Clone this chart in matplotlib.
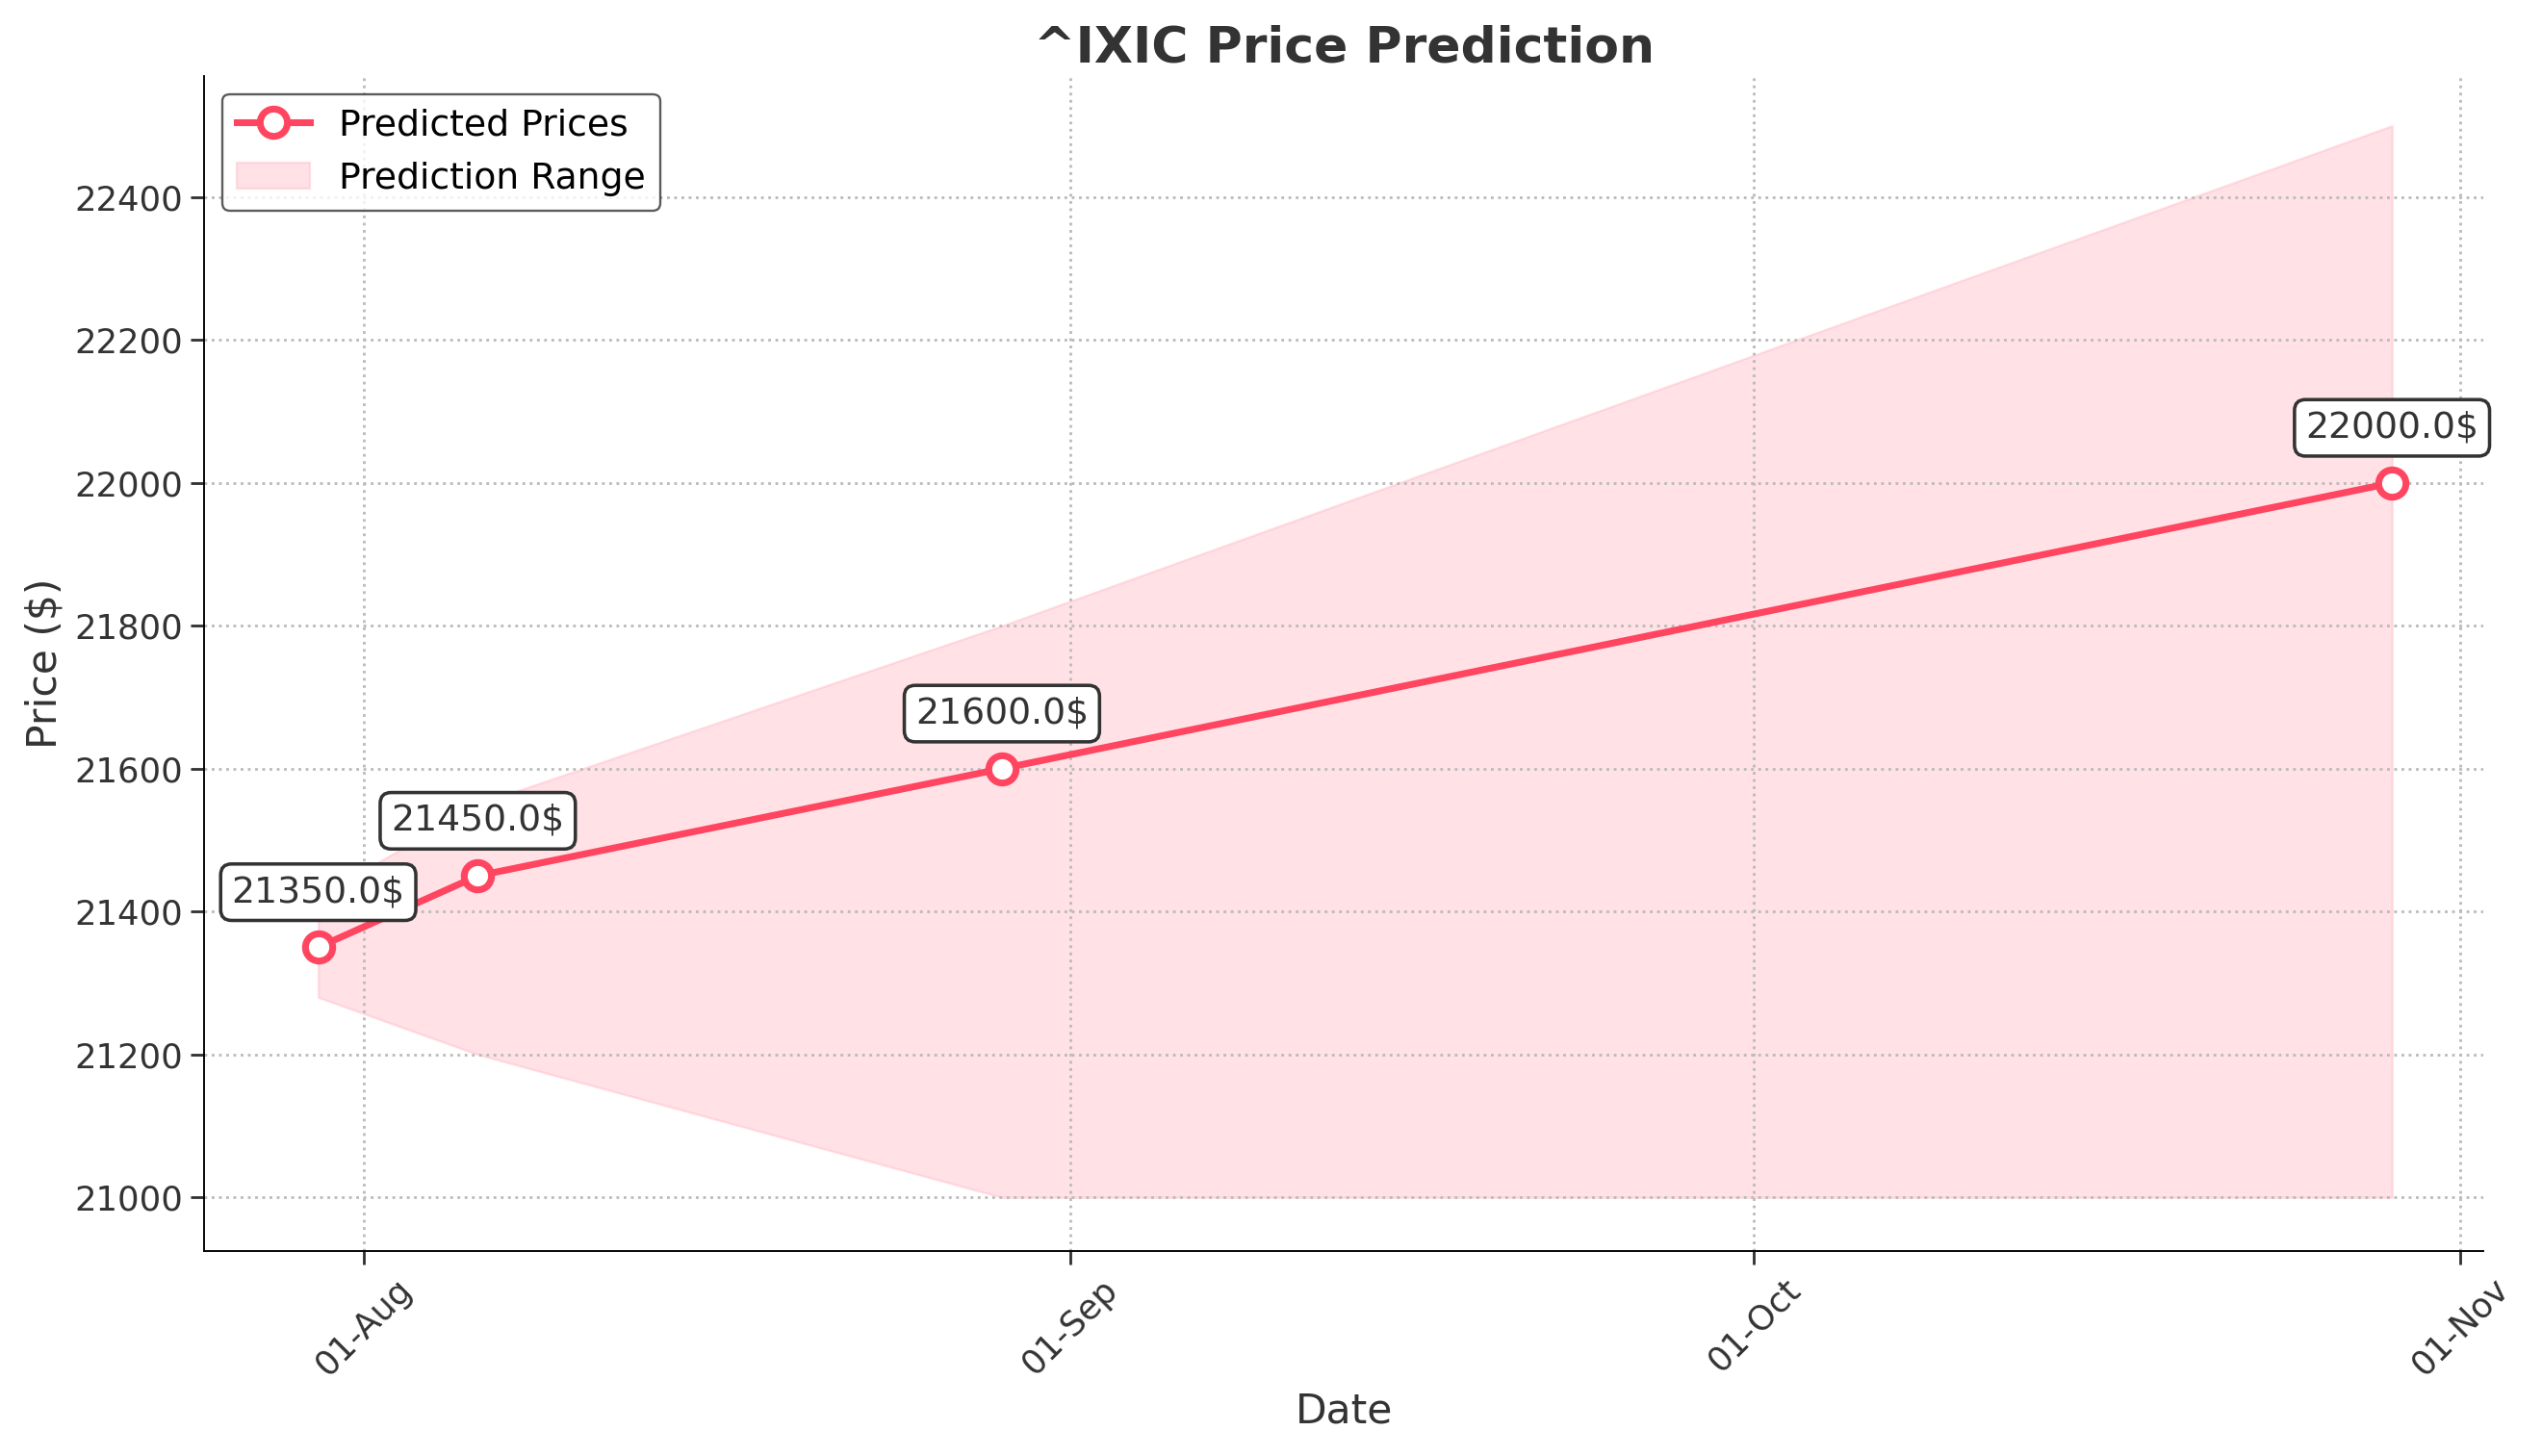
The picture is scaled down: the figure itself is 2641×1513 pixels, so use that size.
import pandas as pd
import matplotlib.pyplot as plt
import matplotlib.dates as mdates

dates = pd.to_datetime(["2025-07-30", "2025-08-06", "2025-08-29", "2025-10-29"])
prices = [21350.0, 21450.0, 21600.0, 22000.0]
lower = [21280, 21200, 21000, 21000]
upper = [21420, 21550, 21800, 22500]

fig, ax = plt.subplots(figsize=(15.54, 8.9), dpi=170)
ax.plot(dates, prices, color="#ff4560", lw=3, marker="o", markersize=12,
        markerfacecolor="white", markeredgewidth=3, label="Predicted Prices")
ax.fill_between(dates, lower, upper, color="#ffb6c1", alpha=0.4, label="Prediction Range")
for d, p in zip(dates, prices):
    ax.annotate(f"{p}$", (d, p), xytext=(0, 20), textcoords="offset points", ha="center",
                fontsize=16, color="#333333",
                bbox=dict(boxstyle="round,pad=0.3", fc="white", ec="#333333", lw=1.5))

ax.set_title("^IXIC Price Prediction", fontsize=22, fontweight="bold", color="#333333")
ax.set_xlabel("Date", fontsize=18, color="#333333")
ax.set_ylabel("Price ($)", fontsize=18, color="#333333")
ax.xaxis.set_major_locator(mdates.MonthLocator())
ax.xaxis.set_major_formatter(mdates.DateFormatter("%d-%b"))
ax.set_xlim(pd.Timestamp("2025-07-25"), pd.Timestamp("2025-11-02"))
ax.set_ylim(20925, 22570)
plt.setp(ax.get_xticklabels(), rotation=45)
ax.tick_params(labelsize=15, colors="#333333", length=6, width=1.2)
ax.grid(True, linestyle=":", color="#bbbbbb", lw=1.2)
ax.spines["top"].set_visible(False)
ax.spines["right"].set_visible(False)
ax.legend(loc="upper left", fontsize=16, edgecolor="#333333")
fig.tight_layout()
fig.savefig("out.png")
